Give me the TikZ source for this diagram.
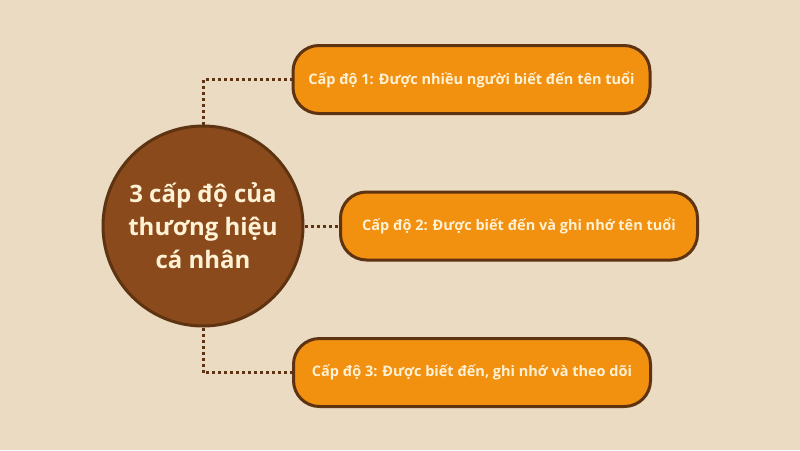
\documentclass[tikz,border=0pt]{standalone}
\usepackage{fontspec}
\setmainfont{Open Sans}
\definecolor{bgbeige}{HTML}{EADBC2}
\definecolor{hubbrown}{HTML}{8A4A1C}
\definecolor{darkbrown}{HTML}{5E3311}
\definecolor{levelorange}{HTML}{F2900F}
\definecolor{creamtext}{HTML}{FFF1D4}
\tikzset{
  hub/.style={circle, fill=hubbrown, draw=darkbrown, line width=3pt, minimum size=200pt,
    text=creamtext, font=\fontsize{24}{33}\selectfont\bfseries, align=center, inner sep=0pt},
  level/.style={rounded corners=26pt, fill=levelorange, draw=darkbrown, line width=3pt,
    minimum width=357pt, minimum height=68pt, text=creamtext,
    font=\fontsize{14.5}{17}\selectfont\bfseries},
  link/.style={draw=darkbrown, line width=3pt, dash pattern=on 3pt off 3pt}
}
\begin{document}
\begin{tikzpicture}[x=1pt,y=-1pt]
\fill[bgbeige] (0,0) rectangle (800,450);
\useasboundingbox (0,0) rectangle (800,450);

\node[hub] (hub) at (203,226) {3 cấp độ của\\thương hiệu\\cá nhân};

\node[level] (lvA) at (471.5,79.5) {Cấp độ 1: Được nhiều người biết đến tên tuổi};
\node[level] (lvB) at (519,226) {Cấp độ 2: Được biết đến và ghi nhớ tên tuổi};
\node[level] (lvC) at (472,372.5) {Cấp độ 3: Được biết đến, ghi nhớ và theo dõi};

% dotted links
\draw[link] (hub.north) |- (lvA.west);
\draw[link] (hub.east) -- (lvB.west);
\draw[link] (hub.south) |- (lvC.west);
\end{tikzpicture}
\end{document}
